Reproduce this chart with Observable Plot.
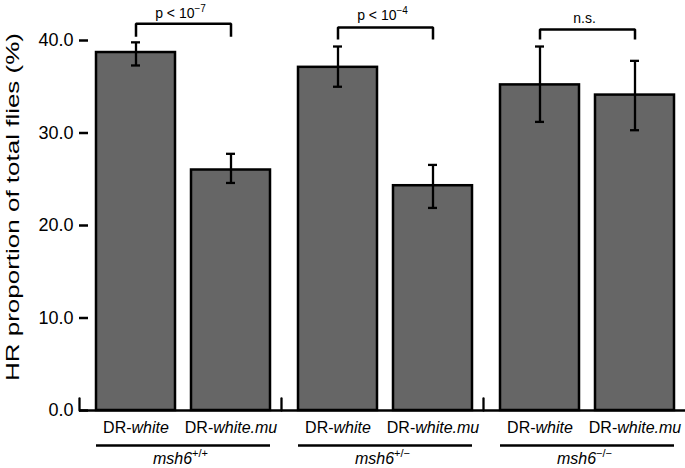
<!DOCTYPE html>
<html><head><meta charset="utf-8">
<script src="https://cdn.jsdelivr.net/npm/d3@7"></script>
<script src="https://cdn.jsdelivr.net/npm/@observablehq/plot@0.6"></script>
<style>body{margin:0;background:#fff} #chart svg{display:block}</style>
</head><body><div id="chart"></div>
<script>
const genotypes = ["msh6+/+", "msh6+/−", "msh6−/−"];
const reporters = ["DR-white", "DR-white.mu"];
const hrWhite = [38.7, 37.1, 35.2];
const hrWhiteMu = [26.0, 24.3, 34.1];
const errLoWhite = [37.3, 35.0, 31.2];
const errHiWhite = [39.8, 39.35, 39.35];
const errLoMu = [24.6, 21.9, 30.3];
const errHiMu = [27.75, 26.55, 37.8];
const pLabels = ["p < 10−7", "p < 10−4", "n.s."];
const bracketTop = [41.8, 41.4, 41.2];
const bracketLeg = [40.4, 40.1, 40.1];
const pLabelY = [42.95, 42.65, 42.35];
const yTicks = [0, 10, 20, 30, 40];
const yLabel = "HR proportion of total flies (%)";

const FONT = "'Liberation Sans', Arial, Helvetica, sans-serif";

const rows = genotypes.flatMap((g, i) => [
  {genotype: g, reporter: reporters[0], hr: hrWhite[i], lo: errLoWhite[i], hi: errHiWhite[i]},
  {genotype: g, reporter: reporters[1], hr: hrWhiteMu[i], lo: errLoMu[i], hi: errHiMu[i]}
]);
const brackets = genotypes.flatMap((g, i) => [
  {genotype: g, reporter: reporters[0], y: bracketLeg[i]},
  {genotype: g, reporter: reporters[0], y: bracketTop[i]},
  {genotype: g, reporter: reporters[1], y: bracketTop[i]},
  {genotype: g, reporter: reporters[1], y: bracketLeg[i]}
]);
const pRows = genotypes.map((g, i) => ({genotype: g, label: pLabels[i], y: pLabelY[i]}));
const groupRows = genotypes.map(g => ({genotype: g}));

const tickShape = {draw(context, l) { context.moveTo(0, 0); context.lineTo(0, -l); }};

const plot = Plot.plot({
  width: 685, height: 468,
  marginLeft: 78, marginRight: 0, marginTop: 3, marginBottom: 58,
  style: {fontFamily: FONT, background: "#fff", color: "#000"},
  fx: {domain: genotypes, padding: 0, axis: null},
  x: {domain: reporters, paddingInner: 0.1675, paddingOuter: 0.143, align: 0.62, axis: null},
  y: {domain: [0, 44], axis: null},
  marks: [
    Plot.barY(rows, {fx: "genotype", x: "reporter", y: "hr", fill: "#666666", stroke: "#000", strokeWidth: 2.5}),
    Plot.ruleX(rows, {fx: "genotype", x: "reporter", y1: "lo", y2: "hi", stroke: "#000", strokeWidth: 2.3}),
    Plot.tickY(rows, {fx: "genotype", x: "reporter", y: "lo", insetLeft: 35, insetRight: 35, stroke: "#000", strokeWidth: 2.3}),
    Plot.tickY(rows, {fx: "genotype", x: "reporter", y: "hi", insetLeft: 35, insetRight: 35, stroke: "#000", strokeWidth: 2.3}),
    Plot.line(brackets, {fx: "genotype", x: "reporter", y: "y", z: "genotype", stroke: "#000", strokeWidth: 2.5, strokeLinejoin: "miter", strokeLinecap: "butt"}),
    Plot.text(pRows, {fx: "genotype", y: "y", text: "label", fontSize: 14, lineAnchor: "middle", fill: "#000"}),
    Plot.ruleY([0], {stroke: "#000", strokeWidth: 2.5}),
    Plot.vector([0], {frameAnchor: "bottom-left", length: 12, anchor: "start", rotate: 0, shape: tickShape, stroke: "#000", strokeWidth: 2.3}),
    Plot.ruleY(groupRows, {fx: "genotype", y: () => 0, x1: () => reporters[0], x2: () => reporters[1], dy: 35, stroke: "#000", strokeWidth: 2.3}),
    Plot.axisY({ticks: yTicks, tickSize: -9, tickPadding: 15, tickFormat: d => d.toFixed(1), fontSize: 18, strokeWidth: 2.5, line: true,
      label: yLabel, labelAnchor: "center", labelArrow: "none", labelOffset: 74}),
    Plot.axisX({tickSize: 0, tickPadding: 11, fontSize: 16, label: null}),
    Plot.axisFx({anchor: "bottom", tickSize: 0, tickPadding: 42, fontSize: 16, label: null})
  ]
});
document.getElementById("chart").appendChild(plot);

// rich text: italics and superscripts
function richify(el, parts, supSize, supDy) {
  const sel = d3.select(el);
  sel.text(null);
  for (const [t, kind] of parts) {
    const ts = sel.append("tspan").text(t);
    if (kind === "i") ts.attr("font-style", "italic");
    if (kind === "sup") ts.attr("font-size", supSize).attr("dy", supDy);
  }
}
d3.select(plot).selectAll("text").each(function() {
  if (this.querySelector("tspan")) return;
  const s = this.textContent;
  let m;
  if ((m = s.match(/^(DR-)(.+)$/))) richify(this, [[m[1]], [m[2], "i"]]);
  else if ((m = s.match(/^(msh6)(.+)$/))) richify(this, [[m[1], "i"], [m[2], "sup"]], 11, -7);
  else if ((m = s.match(/^(p < 10)(.+)$/))) richify(this, [[m[1]], [m[2], "sup"]], 10, -6);
  else if (s === yLabel) {
    d3.select(this).attr("font-size", 19).attr("textLength", 348).attr("lengthAdjust", "spacingAndGlyphs");
  }
});
</script>
</body></html>
